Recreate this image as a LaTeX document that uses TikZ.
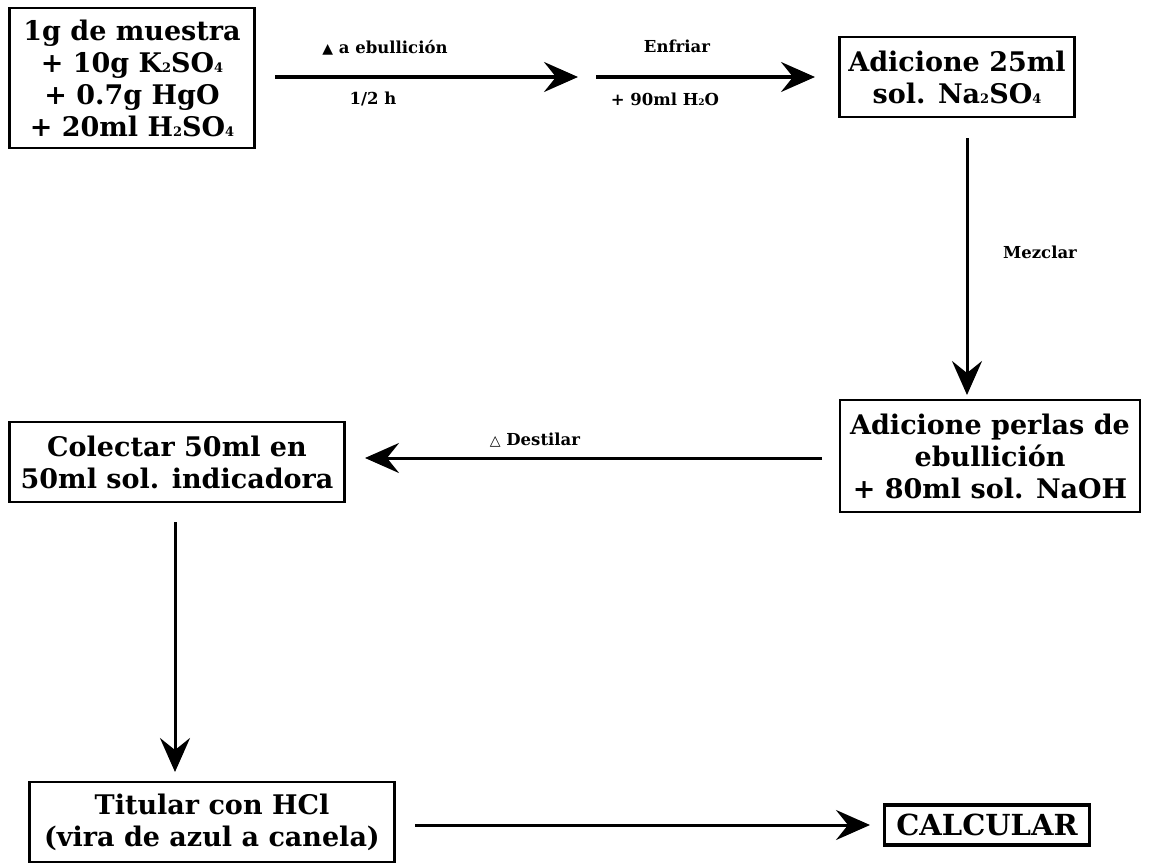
\documentclass[tikz,border=0pt]{standalone}
\usepackage{fontspec}
\setmainfont{DejaVu Serif}
\newfontfamily\symfont{DejaVu Sans}
\usetikzlibrary{arrows.meta}
\tikzset{
  box/.style={draw, line width=2.6pt, align=center, inner sep=0pt, font=\bfseries\fontsize{27}{32}\selectfont},
  lbl/.style={font=\bfseries\fontsize{16.5}{19}\selectfont, inner sep=0pt},
  flow/.style={line width=3pt, -{Stealth[length=34pt, width=30pt, inset=12pt]}}
}
\newcommand{\sub}[1]{\raisebox{-0.5pt}{\fontsize{13}{13}\selectfont #1}}
\newcommand{\subsm}[1]{\raisebox{-0.5pt}{\fontsize{9}{9}\selectfont #1}}
\newcommand{\heatf}{{\symfont\fontsize{14}{14}\selectfont ▲}}
\newcommand{\heato}{{\symfont\bfseries\fontsize{14}{14}\selectfont △}}
\begin{document}
\begin{tikzpicture}[x=1pt, y=-1pt]
\useasboundingbox (0,0) rectangle (1151,867);
\node[box, minimum width=245pt, minimum height=140pt] (b1) at (132,78)
  {1g de muestra\\+ 10g K\sub{2}SO\sub{4}\\+ 0.7g HgO\\+ 20ml H\sub{2}SO\sub{4}};
\node[box, minimum width=235pt, minimum height=80pt] (b2) at (957,77)
  {Adicione 25ml\\sol. Na\sub{2}SO\sub{4}};
\node[box, minimum width=300pt, minimum height=112pt] (b3) at (990,456)
  {Adicione perlas de\\ebullición\\+ 80ml sol. NaOH};
\node[box, minimum width=335pt, minimum height=80pt] (b4) at (177,462)
  {Colectar 50ml en\\50ml sol. indicadora};
\node[box, minimum width=365pt, minimum height=80pt] (b5) at (212,822)
  {Titular con HCl\\(vira de azul a canela)};
\node[box, minimum width=205pt, minimum height=40pt, line width=3.4pt, font=\bfseries\fontsize{29}{32}\selectfont] (b6) at (987,825)
  {CALCULAR};

\coordinate (a1s) at (275,77);
\coordinate (a1e) at (578,77);
\coordinate (a2s) at (596,77);
\coordinate (a2e) at (815,77);
\draw[flow] (a1s) -- (a1e);
\draw[flow] (a2s) -- (a2e);
\node[lbl] (l1) at (385,48) {\heatf\ a ebullición};
\node[lbl] (l2) at (373,99) {1/2 h};
\node[lbl] (l3) at (677,46) {Enfriar};
\node[lbl] (l4) at (665,99) {+ 90ml H\subsm{2}O};

\draw[flow] (967,138) coordinate (d1s) -- (967,395) coordinate (d1e);
\node[lbl] (l5) at (1040,252) {Mezclar};

\draw[flow] (822,458) coordinate (d2s) -- (365,458) coordinate (d2e);
\node[lbl] (l6) at (535,440) {\heato\ Destilar};

\draw[flow] (175,522) coordinate (d3s) -- (175,772) coordinate (d3e);
\draw[flow] (415,825) coordinate (d4s) -- (870,825) coordinate (d4e);
\end{tikzpicture}
\end{document}
